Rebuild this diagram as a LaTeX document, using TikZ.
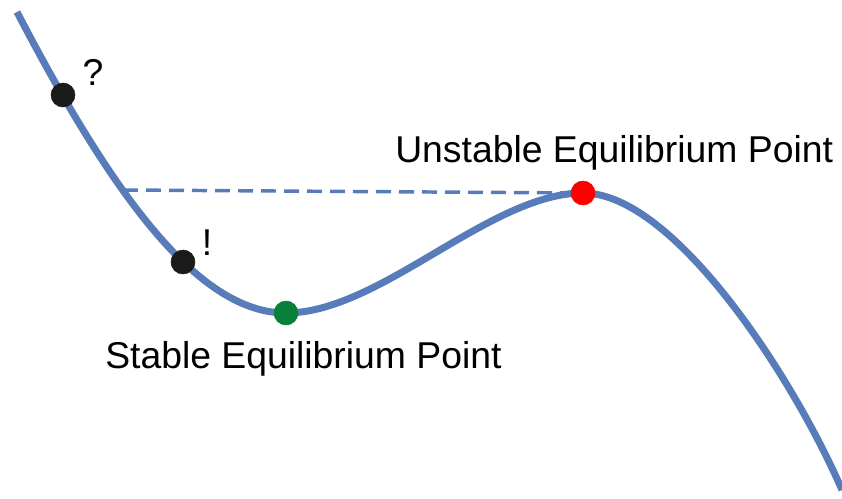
\documentclass[tikz,border=0pt]{standalone}
\usepackage{fontspec}
\setmainfont{Liberation Sans}
\definecolor{curveblue}{RGB}{88,124,186}
\definecolor{stablegreen}{RGB}{8,128,58}
\definecolor{dotblack}{RGB}{26,26,26}

\begin{document}
\begin{tikzpicture}[x=0.75pt, y=-0.75pt,
    lbl/.style={inner sep=0pt, font=\fontsize{28}{34}\selectfont}]
                \useasboundingbox (0,0) rectangle (842,499);

                % Potential curve
                \draw[curveblue, line width=5.25pt]
                    (17,12) .. controls (115,200) and (200,313) .. (286,313)
                    .. controls (380,313) and (490,193) .. (583,193)
                    .. controls (673,193) and (792,375) .. (842,490);

                % --- POINTS ON THE CURVE ---
                \coordinate (Q) at (63,95);
                \coordinate (E) at (183,262);
                \coordinate (S) at (286,313);
                \coordinate (U) at (583,193);
                \coordinate (H) at (123,190);

                % Dashed level line
                \draw[curveblue, line width=2.6pt, dash pattern=on 11.25pt off 6pt] (H) -- (U);

                % Dots
                \filldraw[dotblack] (Q) circle (9pt);
                \filldraw[dotblack] (E) circle (9pt);
                \filldraw[stablegreen] (S) circle (9pt);
                \filldraw[red] (U) circle (9pt);

                % Labels
                \node[lbl] (qmark) at (93,72) {?};
                \node[lbl] (emark) at (207,243) {!};
                \node[lbl, anchor=base west] (unstable) at (395,162) {Unstable Equilibrium Point};
                \node[lbl, anchor=base west] (stable) at (105,368) {Stable Equilibrium Point};

\end{tikzpicture}
\end{document}
